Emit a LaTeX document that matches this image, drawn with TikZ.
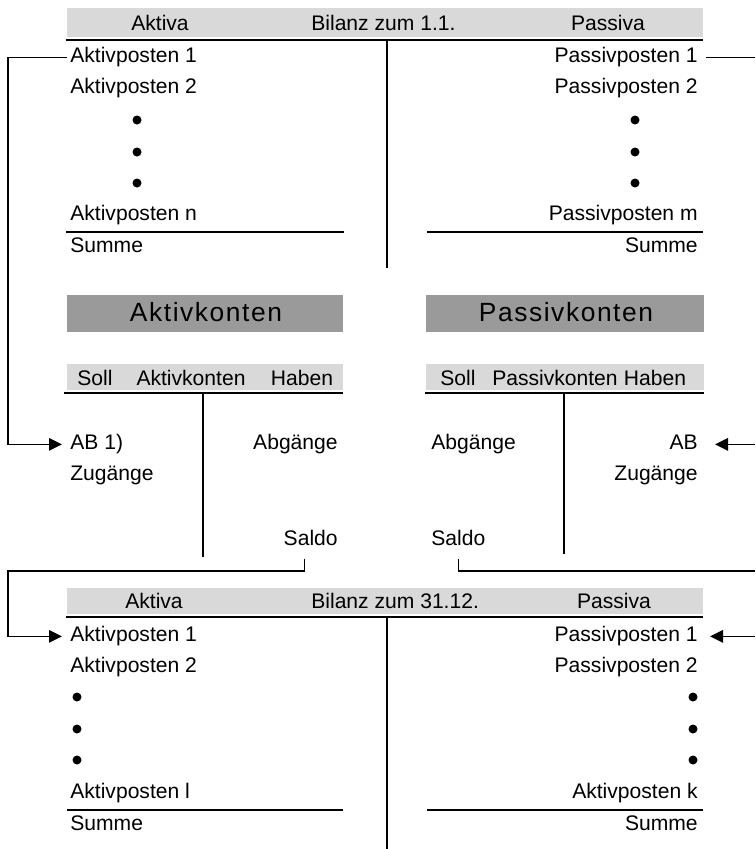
\documentclass[tikz,border=0pt]{standalone}
\usepackage{fontspec}
\setmainfont{Liberation Sans}
\usetikzlibrary{arrows.meta}
\definecolor{bandgray}{RGB}{217,217,217}
\definecolor{boxgray}{RGB}{154,154,154}
\newcommand{\tx}   {\fontsize{12}{14}\selectfont}
\newcommand{\bigtx}{\fontsize{15}{18}\selectfont\addfontfeatures{LetterSpace=6}}

\begin{document}
\begin{tikzpicture}[x=0.02cm,y=-0.02cm,
    txt/.style    ={font=\tx,inner sep=0pt},
    hdr/.style    ={font=\bigtx,inner sep=0pt},
    link/.style   ={line width=0.8pt},
    tarrow/.style ={link,-{Triangle[length=0.26cm,width=0.25cm]}},
    tline/.style  ={line width=1.4pt},
    sumline/.style={line width=1.1pt}]
  \useasboundingbox (0,0) rectangle (755,849);
  \coordinate (lft) at (  8,  0);
  \coordinate (rgt) at (755,  0);
  \coordinate (lvl) at (  0,571);

  \fill[bandgray] ( 67,  8) rectangle (703, 37);
  \draw[tline   ] ( 66, 40) -- (703, 40);
  \draw[tline   ] (387, 40) -- (387,268);
  \node[txt,anchor=base     ] (ta ) at (160, 30) {Aktiva};
  \node[txt,anchor=base west] (tb ) at (311, 30) {Bilanz zum 1.1.};
  \node[txt,anchor=base     ] (tp ) at (608, 30) {Passiva};
  \node[txt,anchor=base west] (aa1) at ( 70, 62) {Aktivposten 1};
  \node[txt,anchor=base west] (aa2) at ( 70, 93) {Aktivposten 2};
  \node[txt,anchor=base west] (aan) at ( 70,220) {Aktivposten n};
  \node[txt,anchor=base west] (asu) at ( 70,252) {Summe};
  \node[txt,anchor=base east] (pp1) at (698, 62) {Passivposten 1};
  \node[txt,anchor=base east] (pp2) at (698, 93) {Passivposten 2};
  \node[txt,anchor=base east] (ppm) at (698,220) {Passivposten m};
  \node[txt,anchor=base east] (psu) at (698,252) {Summe};
  \foreach \y in {120,152,183} {
    \fill (137,\y) circle (4.5);
    \fill (635,\y) circle (4.5);
  }
  \draw[sumline] ( 66,232) -- (344,232);
  \draw[sumline] (427,232) -- (703,232);

  \fill[boxgray] ( 67,295) rectangle (343,332);
  \fill[boxgray] (426,295) rectangle (704,332);
  \node[hdr,anchor=base] (akh) at (206,321) {Aktivkonten};
  \node[hdr,anchor=base] (pkh) at (566,321) {Passivkonten};

  \fill[bandgray] ( 67,364) rectangle (343,390);
  \draw[tline   ] ( 64,393) -- (343,393);
  \draw[tline   ] (203,393) -- (203,557);
  \node[txt,anchor=base     ] (ks ) at ( 95,385) {Soll};
  \node[txt,anchor=base     ] (kt ) at (191,385) {Aktivkonten};
  \node[txt,anchor=base     ] (kh ) at (302,385) {Haben};
  \node[txt,anchor=base west] (kab) at ( 70,449) {AB 1)};
  \node[txt,anchor=base west] (kzu) at ( 70,480) {Zugänge};
  \node[txt,anchor=base east] (kag) at (338,449) {Abgänge};
  \node[txt,anchor=base east] (ksa) at (338,545) {Saldo};

  \fill[bandgray] (426,364) rectangle (704,390);
  \draw[tline   ] (425,393) -- (704,393);
  \draw[tline   ] (564,393) -- (564,554);
  \node[txt,anchor=base     ] (qs ) at (458,385) {Soll};
  \node[txt,anchor=base     ] (qt ) at (555,385) {Passivkonten};
  \node[txt,anchor=base     ] (qh ) at (655,385) {Haben};
  \node[txt,anchor=base west] (qag) at (431,449) {Abgänge};
  \node[txt,anchor=base east] (qab) at (698,449) {AB};
  \node[txt,anchor=base east] (qzu) at (698,480) {Zugänge};
  \node[txt,anchor=base west] (qsa) at (431,545) {Saldo};

  \fill[bandgray] ( 67,588) rectangle (703,614);
  \draw[tline   ] ( 66,617) -- (703,617);
  \draw[tline   ] (387,617) -- (387,849);
  \node[txt,anchor=base     ] (ba ) at (154,608) {Aktiva};
  \node[txt,anchor=base west] (bb ) at (311,608) {Bilanz zum 31.12.};
  \node[txt,anchor=base     ] (bp ) at (614,608) {Passiva};
  \node[txt,anchor=base west] (ba1) at ( 70,641) {Aktivposten 1};
  \node[txt,anchor=base west] (ba2) at ( 70,672) {Aktivposten 2};
  \node[txt,anchor=base west] (bal) at ( 70,798) {Aktivposten l};
  \node[txt,anchor=base west] (bsu) at ( 70,830) {Summe};
  \node[txt,anchor=base east] (bp1) at (698,641) {Passivposten 1};
  \node[txt,anchor=base east] (bp2) at (698,672) {Passivposten 2};
  \node[txt,anchor=base east] (bpk) at (698,798) {Aktivposten k};
  \node[txt,anchor=base east] (bps) at (698,830) {Summe};
  \foreach \y in {697,729,760} {
    \fill ( 77,\y) circle (4.5);
    \fill (693,\y) circle (4.5);
  }
  \draw[sumline] ( 67,810) -- (343,810);
  \draw[sumline] (427,810) -- (703,810);

  \draw[tarrow,shorten <=0.06cm,shorten >=0.16cm] (aa1.mid west) -| (lft |- kab.mid west) -- (kab.mid west);
  \draw[link,shorten <=0.16cm] (pp1.mid east) -- (rgt |- pp1.mid east);
  \draw[tarrow,shorten >=0.34cm] (rgt |- qab.mid east) -- (qab.mid east);
  \draw[tarrow,shorten <=0.26cm,shorten >=0.16cm] ([xshift=-0.12cm]ksa.south) |- (lft |- lvl) |- (ba1.mid west);
  \draw[link,shorten <=0.26cm] (qsa.south) |- (rgt |- lvl);
  \draw[tarrow,shorten >=0.24cm] (rgt |- bp1.mid east) -- (bp1.mid east);
\end{tikzpicture}
\end{document}
